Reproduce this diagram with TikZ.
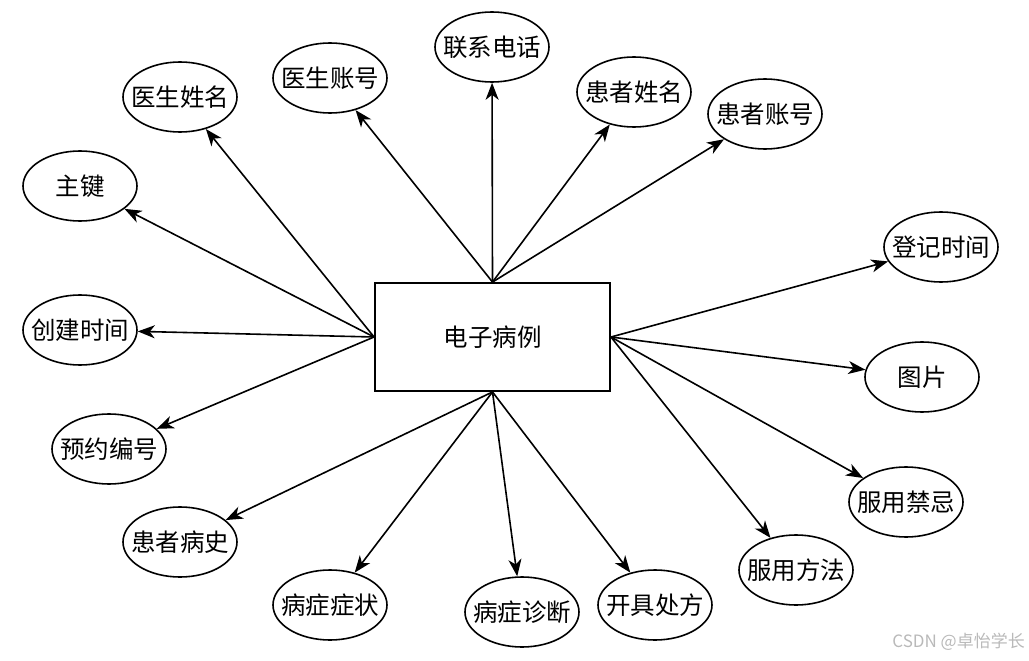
\documentclass[tikz,border=0pt]{standalone}
\usepackage{fontspec}
\setmainfont{Noto Sans CJK SC}
\usetikzlibrary{shapes.geometric,arrows.meta}
\definecolor{wm}{RGB}{185,185,185}
\newcommand{\zt}[1]{\makebox[0pt]{#1}}
\begin{document}
\begin{tikzpicture}[x=1pt,y=-1pt,
  attr/.style={draw,ellipse,line width=1.6pt,minimum width=114pt,minimum height=70pt,inner sep=0pt,font=\fontsize{24.5}{28}\selectfont},
  ent/.style={draw,rectangle,line width=1.9pt,minimum width=235pt,minimum height=108pt,inner sep=0pt,font=\fontsize{24.5}{28}\selectfont},
  conn/.style={line width=1.6pt,-{Stealth[length=17pt,width=13pt,inset=5pt]}}]
\useasboundingbox (0,0) rectangle (1029,661);
\node[ent] (e) at (492.5,337) {电子病例};
\node[attr] (lx) at (492,47) {\zt{联系电话}};
\node[attr] (ysz) at (330,78) {\zt{医生账号}};
\node[attr] (ysx) at (180,97) {\zt{医生姓名}};
\node[attr] (hzx) at (634,92) {\zt{患者姓名}};
\node[attr] (hzz) at (765,114) {\zt{患者账号}};
\node[attr] (zj) at (80,186) {\zt{主键}};
\node[attr] (dj) at (941,247) {\zt{登记时间}};
\node[attr] (cj) at (80,330) {\zt{创建时间}};
\node[attr] (tp) at (922,377) {\zt{图片}};
\node[attr] (yy) at (109,449) {\zt{预约编号}};
\node[attr] (jj) at (906,502) {\zt{服用禁忌}};
\node[attr] (bs) at (180,542) {\zt{患者病史}};
\node[attr] (ff) at (796,570) {\zt{服用方法}};
\node[attr] (zz) at (330,605) {\zt{病症症状}};
\node[attr] (zd) at (522,612) {\zt{病症诊断}};
\node[attr] (cf) at (655,605) {\zt{开具处方}};
\foreach \t in {lx,ysz,hzx,hzz} \draw[conn] (e.north) -- (\t);
\foreach \t in {ysx,zj,cj,yy} \draw[conn] (e.west) -- (\t);
\foreach \t in {bs,zz,zd,cf} \draw[conn] (e.south) -- (\t);
\foreach \t in {dj,tp,jj,ff} \draw[conn] (e.east) -- (\t);
\node[text=wm,font=\fontsize{17}{20}\selectfont,anchor=east,inner sep=0pt] (wmk) at (1025,642) {CSDN @卓怡学长};
\end{tikzpicture}
\end{document}
